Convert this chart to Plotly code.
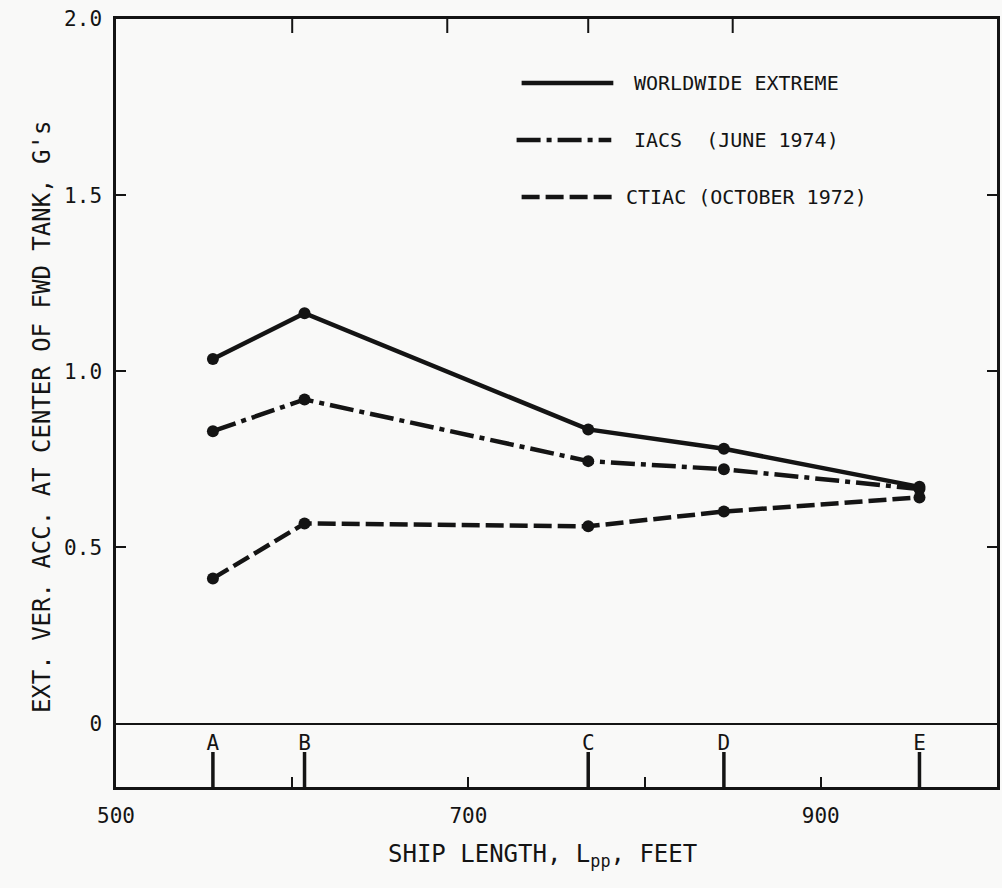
import plotly.graph_objects as go

# ---- data ----
ship_letters = ["A", "B", "C", "D", "E"]
ship_lengths = [555, 607, 768, 845, 956]          # L_pp, feet
worldwide_extreme = [1.035, 1.165, 0.835, 0.780, 0.672]
iacs_1974 = [0.830, 0.920, 0.745, 0.722, 0.666]
ctiac_1972 = [0.412, 0.568, 0.560, 0.602, 0.642]

y_tick_vals = [0, 0.5, 1.0, 1.5, 2.0]
y_tick_text = ["0", "0.5", "1.0", "1.5", "2.0"]
top_tick_vals = [600, 688, 768, 850]

series_names = ["WORLDWIDE EXTREME", "IACS\u00a0\u00a0(JUNE 1974)", "CTIAC (OCTOBER 1972)"]

INK = "#141414"
BG = "#f9f9f8"
FONT = "DejaVu Sans Mono"

dashes = ["solid", "24px,6px,5px,6px", "18px,6px"]
series = [worldwide_extreme, iacs_1974, ctiac_1972]

xr = [500, 1000]
yr = [-0.18, 2.0]

fig = go.Figure()
for name, vals, dash in zip(series_names, series, dashes):
    fig.add_trace(go.Scatter(
        x=ship_lengths, y=vals, mode="lines+markers", name=name,
        line=dict(color=INK, width=4.5, dash=dash),
        marker=dict(color=INK, size=12),
        showlegend=False,
    ))

# ship-location tick marks rising from the bottom frame (clipped to the plot area)
fig.add_trace(go.Scatter(
    x=ship_lengths, y=[yr[0]] * len(ship_lengths), mode="markers+text",
    marker=dict(symbol="line-ns", size=50, line=dict(color=INK, width=3.5)),
    text=ship_letters, textposition="top center",
    textfont=dict(family=FONT, size=21, color=INK),
    cliponaxis=True, showlegend=False, hoverinfo="skip",
))
# short reference ticks hanging from the top frame
fig.add_trace(go.Scatter(
    x=top_tick_vals, y=[yr[1]] * len(top_tick_vals), mode="markers",
    marker=dict(symbol="line-ns", size=20, line=dict(color=INK, width=2)),
    cliponaxis=True, showlegend=False, hoverinfo="skip",
))

fig.update_layout(
    width=1002, height=888,
    margin=dict(l=116, r=2, t=19, b=101),
    paper_bgcolor=BG, plot_bgcolor=BG,
    font=dict(family=FONT, color=INK, size=20),
    xaxis=dict(
        range=xr, showgrid=False, zeroline=False,
        showline=True, linecolor=INK, linewidth=2.5, mirror=True,
        tickmode="linear", tick0=500, dtick=200,
        ticks="inside", ticklen=10, tickwidth=2, tickcolor=INK,
        minor=dict(tickmode="linear", tick0=500, dtick=100, ticks="inside",
                   ticklen=10, tickwidth=2, tickcolor=INK, showgrid=False),
        tickfont=dict(family=FONT, size=21, color=INK),
        ticklabelstandoff=8,
    ),
    yaxis=dict(
        range=yr, showgrid=False,
        zeroline=True, zerolinecolor=INK, zerolinewidth=2,
        showline=True, linecolor=INK, linewidth=2.5, mirror="ticks",
        tickmode="array", tickvals=y_tick_vals, ticktext=y_tick_text,
        ticks="inside", ticklen=10, tickwidth=2, tickcolor=INK,
        tickfont=dict(family=FONT, size=21, color=INK),
        ticklabelstandoff=7,
    ),
)

# axis titles (placed as in the original drawing)
fig.add_annotation(
    x=-0.0837, y=0.482, xref="paper", yref="paper", textangle=-90,
    text="EXT. VER. ACC. AT CENTER OF FWD TANK, G's",
    showarrow=False, xanchor="center", yanchor="middle",
    font=dict(family=FONT, size=24, color=INK),
)
fig.add_annotation(
    x=0.484, y=-0.066, xref="paper", yref="paper",
    text="SHIP LENGTH, L<sub>pp</sub>, FEET",
    showarrow=False, xanchor="center", yanchor="top",
    font=dict(family=FONT, size=24, color=INK),
)

# hand-drawn style legend inside the plot
leg_y = [0.9167, 0.8424, 0.7682]
leg_x0 = [0.4604, 0.4547, 0.4604]
leg_x1 = [0.5645, 0.5622, 0.5645]
leg_tx = [0.5860, 0.5860, 0.5769]
for name, dash, y, x0, x1, tx in zip(series_names, dashes, leg_y, leg_x0, leg_x1, leg_tx):
    fig.add_shape(type="line", xref="paper", yref="paper", x0=x0, x1=x1, y0=y, y1=y,
                  line=dict(color=INK, width=4.5, dash=dash))
    fig.add_annotation(x=tx, y=y, xref="paper", yref="paper", text=name,
                       showarrow=False, xanchor="left", yanchor="middle",
                       font=dict(family=FONT, size=20, color=INK))

fig.write_html(
    "out.html",
    config={"displayModeBar": False},
    post_script="document.body.style.margin='0';document.body.style.padding='0';"
                "document.documentElement.style.overflow='hidden';",
)
